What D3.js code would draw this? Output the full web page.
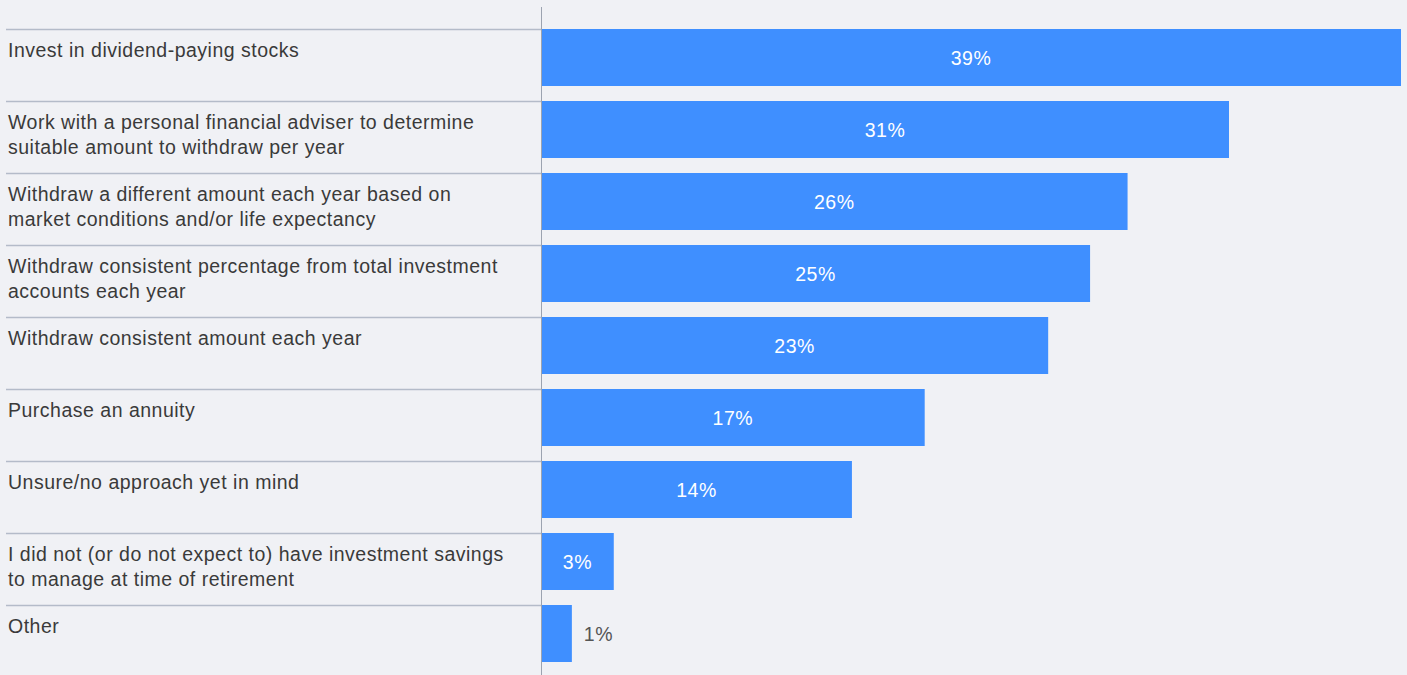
<!DOCTYPE html>
<html>
<head>
<meta charset="utf-8">
<script src="https://cdn.jsdelivr.net/npm/d3@7"></script>
<style>
  html, body { margin: 0; padding: 0; background: #f0f1f5; }
  svg { display: block; font-family: "Liberation Sans", Arial, sans-serif; }
</style>
</head>
<body>
<div id="chart"></div>
<script>
// data
const categories = [
  'Invest in dividend-paying stocks',
  'Work with a personal financial adviser to determine\nsuitable amount to withdraw per year',
  'Withdraw a different amount each year based on\nmarket conditions and/or life expectancy',
  'Withdraw consistent percentage from total investment\naccounts each year',
  'Withdraw consistent amount each year',
  'Purchase an annuity',
  'Unsure/no approach yet in mind',
  'I did not (or do not expect to) have investment savings\nto manage at time of retirement',
  'Other'
];
const values = [39, 31.2, 26.6, 24.9, 23.0, 17.4, 14.1, 3.3, 1.4];
const valueLabels = ['39%', '31%', '26%', '25%', '23%', '17%', '14%', '3%', '1%'];

const width = 1407, height = 675;

const svg = d3.select('#chart').append('svg')
  .attr('width', width)
  .attr('height', height)
  .attr('viewBox', [0, 0, width, height]);

const rows = categories.map((c, i) => ({ cat: c, value: values[i], label: valueLabels[i] }));

const x = d3.scaleLinear().domain([0, 39]).range([541, 1401]);
const y = d3.scaleBand().domain(categories).range([28.6, 28.6 + 72.05 * categories.length]);
const rowTop = d => Math.round(y(d.cat));
const barH = 57;

const grid   = svg.append('g').attr('id', 'separators');
const bars   = svg.append('g').attr('id', 'bars');
const labels = svg.append('g').attr('id', 'category-labels');
const vals   = svg.append('g').attr('id', 'value-labels');

// separators between rows
grid.selectAll('line')
  .data(rows)
  .join('line')
  .attr('x1', 6)
  .attr('x2', 541)
  .attr('y1', d => rowTop(d) + 0.5)
  .attr('y2', d => rowTop(d) + 0.5)
  .attr('stroke', '#b4bbc9')
  .attr('stroke-width', 1.3);

bars.selectAll('rect')
  .data(rows)
  .join('rect')
  .attr('x', x(0))
  .attr('y', d => rowTop(d))
  .attr('width', d => x(d.value) - x(0))
  .attr('height', barH)
  .attr('fill', '#3f8fff');

// vertical axis line
svg.append('line')
  .attr('x1', 541.5).attr('x2', 541.5)
  .attr('y1', 7).attr('y2', height)
  .attr('stroke', '#9ca3b0')
  .attr('stroke-width', 1);

// category labels (pre-wrapped)
labels.selectAll('text')
  .data(rows)
  .join('text')
  .attr('x', 8)
  .attr('y', d => rowTop(d) + 27.5)
  .attr('fill', '#3a3a3a')
  .style('font-size', '19.5px')
  .style('letter-spacing', '0.5px')
  .each(function (d) {
    d3.select(this).selectAll('tspan')
      .data(d.cat.split('\n'))
      .join('tspan')
      .attr('x', 8)
      .attr('dy', (t, j) => j === 0 ? 0 : 25)
      .text(t => t);
  });

// value labels: inside the bar when it fits, otherwise after it
const fits = d => x(d.value) - x(0) > 50;

vals.selectAll('text')
  .data(rows)
  .join('text')
  .attr('x', d => fits(d) ? (x(0) + x(d.value)) / 2 : x(d.value) + 12)
  .attr('y', d => rowTop(d) + barH / 2 + 7.5)
  .attr('text-anchor', d => fits(d) ? 'middle' : 'start')
  .attr('fill', d => fits(d) ? '#fff' : '#555')
  .style('font-size', '19.5px')
  .style('letter-spacing', '0.5px')
  .text(d => d.label);
</script>
</body>
</html>
